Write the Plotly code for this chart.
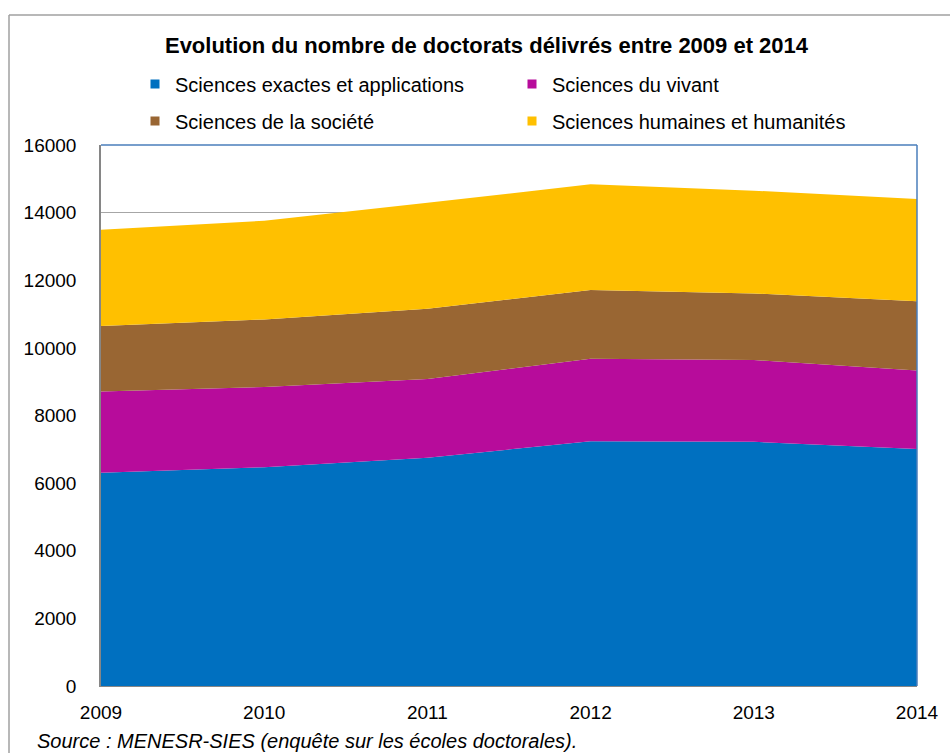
import plotly.graph_objects as go

years = [2009, 2010, 2011, 2012, 2013, 2014]
sciences_exactes = [6310, 6470, 6750, 7240, 7220, 7010]
sciences_vivant = [2400, 2370, 2330, 2440, 2420, 2320]
sciences_societe = [1940, 2000, 2080, 2030, 1970, 2050]
sciences_humaines = [2840, 2920, 3130, 3130, 3040, 3020]

series_names = ["Sciences exactes et applications", "Sciences du vivant",
                "Sciences de la société", "Sciences humaines et humanités"]
series_values = [sciences_exactes, sciences_vivant, sciences_societe, sciences_humaines]
colors = ["#0070C0", "#B70C9B", "#996633", "#FFC000"]

y_ticks = [0, 2000, 4000, 6000, 8000, 10000, 12000, 14000, 16000]

FONT = "Liberation Sans, Arial, sans-serif"
W, H = 950, 753
L, R, T, B = 101, 33, 145, 67
PW, PH = W - L - R, H - T - B

def px_x(px):
    return (px - L) / PW

def px_y(py):
    return (H - B - py) / PH

fig = go.Figure()
for name, vals, col in zip(series_names, series_values, colors):
    fig.add_trace(go.Scatter(x=years, y=vals, stackgroup="one", mode="none",
                             fillcolor=col, name=name, showlegend=False,
                             hoverinfo="x+y+name"))

legend_ids = ["legend", "legend2", "legend3", "legend4"]
legend_pos = [(155, 84), (532, 84), (155, 121), (532, 121)]
layout_legends = {}
for name, col, lid, (lx, ly) in zip(series_names, colors, legend_ids, legend_pos):
    fig.add_trace(go.Scatter(x=[None], y=[None], mode="markers", name=name,
                             marker=dict(symbol="square", size=9, color=col),
                             legend=lid, showlegend=True))
    layout_legends[lid] = dict(x=px_x(lx - 20), y=px_y(ly), xanchor="left", yanchor="middle",
                               xref="paper", yref="paper", bgcolor="rgba(0,0,0,0)",
                               itemwidth=30, tracegroupgap=0,
                               font=dict(family=FONT, size=20, color="#000000"),
                               itemclick=False, itemdoubleclick=False)

fig.update_layout(
    width=W, height=H,
    margin=dict(l=L, r=R, t=T, b=B, pad=0),
    paper_bgcolor="white", plot_bgcolor="white",
    font=dict(family=FONT, size=19, color="#000000"),
    title=dict(text="<b>Evolution du nombre de doctorats délivrés entre 2009 et 2014</b>",
               xref="paper", x=px_x(486.5), xanchor="center",
               y=1 - 45 / H, yanchor="middle",
               font=dict(family=FONT, size=22, color="#000000")),
    xaxis=dict(range=[2009, 2014], tickvals=years, ticktext=[str(y) for y in years],
               showgrid=False, zeroline=False, showline=True, linecolor="#868686",
               linewidth=1, ticks="", ticklabelstandoff=9,
               tickfont=dict(family=FONT, size=19)),
    yaxis=dict(range=[0, 16000], tickvals=y_ticks, ticktext=[str(v) for v in y_ticks],
               showgrid=True, gridcolor="#A6A6A6", gridwidth=1, zeroline=False,
               showline=True, linecolor="#868686", linewidth=1.5, ticks="",
               ticklabelstandoff=19, tickfont=dict(family=FONT, size=19)),
    **layout_legends,
)

# plot area border (top/right in blue)
fig.add_shape(type="line", xref="paper", yref="paper", x0=0, x1=1, y0=1, y1=1,
              line=dict(color="#4A7EBB", width=1.5), layer="above")
fig.add_shape(type="line", xref="paper", yref="paper", x0=1, x1=1, y0=0, y1=1,
              line=dict(color="#4A7EBB", width=1.5), layer="above")
# outer chart frame
fig.add_shape(type="line", xref="paper", yref="paper", x0=px_x(9), x1=px_x(960),
              y0=px_y(15), y1=px_y(15), line=dict(color="#A0A0A0", width=1.5))
fig.add_shape(type="line", xref="paper", yref="paper", x0=px_x(9), x1=px_x(9),
              y0=px_y(15), y1=px_y(760), line=dict(color="#A0A0A0", width=1.5))

fig.add_annotation(text="<i>Source : MENESR-SIES (enquête sur les écoles doctorales).</i>",
                   xref="paper", yref="paper", x=px_x(35), y=px_y(741),
                   xanchor="left", yanchor="middle", showarrow=False,
                   font=dict(family=FONT, size=20, color="#000000"))

fig.write_html("out.html", config={"displayModeBar": False},
               post_script="document.body.style.margin='0';document.body.style.overflow='hidden';")
